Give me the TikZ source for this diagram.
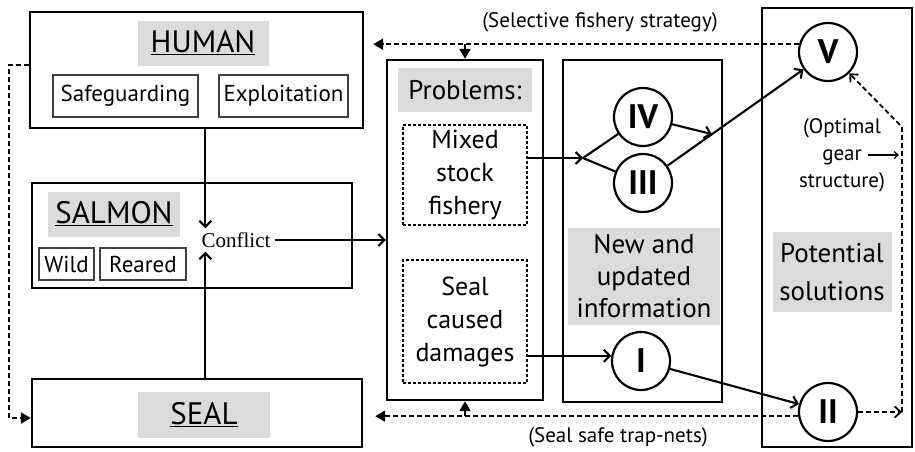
\documentclass[tikz,border=0pt]{standalone}
\usepackage{fontspec}
\setmainfont{PT Sans}
\newfontfamily\conflictfont{Liberation Serif}
\usetikzlibrary{arrows.meta,calc}

\newcommand{\bigfont}{\fontsize{31}{34}\selectfont}
\newcommand{\midfont}{\fontsize{26}{33}\selectfont}
\newcommand{\subfont}{\fontsize{23}{26}\selectfont}
\newcommand{\notefont}{\fontsize{21}{27}\selectfont}

\begin{document}
\begin{tikzpicture}[x=1pt,y=-1pt,
  every node/.style={inner sep=0pt},
  box/.style={draw, line width=2.4pt},
  subbox/.style={draw=black!75, line width=1.6pt, font=\subfont},
  dbox/.style={draw, line width=1.8pt, dash pattern=on 3pt off 2pt, align=center, font=\midfont},
  lbl/.style={fill=black!14, align=center},
  num/.style={draw, circle, line width=2.2pt, minimum size=58pt,
    font=\fontsize{34}{34}\selectfont\bfseries},
  arr/.style={line width=2.1pt, -{Straight Barb[length=6pt,width=12pt]}},
  darr/.style={line width=2.1pt, dash pattern=on 5pt off 3pt,
    -{Triangle[length=10pt,width=11pt]}},
  carr/.style={line width=1.8pt, dash pattern=on 5pt off 3pt,
    -{Straight Barb[length=6pt,width=11pt]}}]
  \useasboundingbox (0,0) rectangle (915,451);

  %% Left column: human, salmon, seal
  \node[box, minimum width=333pt, minimum height=116pt] (human) at (196.5,70) {};
  \node[lbl, minimum width=131pt, minimum height=45pt, font=\bigfont] (humanlbl) at (203,43) {\underline{HUMAN}};
  \node[subbox, minimum width=145pt, minimum height=42pt] (safe) at (125.5,96) {Safeguarding};
  \node[subbox, minimum width=129pt, minimum height=42pt] (exploit) at (283.5,96) {Exploitation};

  \node[box, minimum width=320pt, minimum height=105pt] (salmon) at (192,235.5) {};
  \node[lbl, minimum width=132pt, minimum height=45pt, font=\bigfont] (salmonlbl) at (114,214) {\underline{SALMON}};
  \node[subbox, minimum width=55pt, minimum height=32pt] (wild) at (66.5,264) {Wild};
  \node[subbox, minimum width=86pt, minimum height=32pt] (reared) at (143,264) {Reared};
  \node[font=\conflictfont\fontsize{21}{21}\selectfont, inner sep=4pt] (conflict) at (236,240) {Conflict};

  \node[box, minimum width=330pt, minimum height=68pt] (seal) at (197,413) {};
  \node[lbl, minimum width=132pt, minimum height=46pt, font=\bigfont] (seallbl) at (204,415) {\underline{SEAL}};

  %% Middle: problems and new information
  \node[box, minimum width=156pt, minimum height=340pt] (problems) at (465,230) {};
  \node[lbl, minimum width=134pt, minimum height=44pt, font=\fontsize{27}{27}\selectfont] (problemslbl) at (465,90) {Problems:};
  \node[dbox, minimum width=124pt, minimum height=100pt] (mixed) at (465,175) {Mixed\\stock\\fishery};
  \node[dbox, minimum width=124pt, minimum height=123pt] (damages) at (465,321.5) {Seal\\caused\\damages};

  \node[box, minimum width=159pt, minimum height=342pt] (info) at (642.5,231) {};
  \node[lbl, minimum width=152pt, minimum height=97pt, font=\fontsize{27}{32}\selectfont] (infolbl) at (644,276) {New and\\updated\\information};
  \node[num] (four) at (643,117) {IV};
  \node[num] (three) at (643,183) {III};
  \node[num] (one) at (641,361) {I};

  %% Right: potential solutions
  \node[box, minimum width=150pt, minimum height=439pt] (solutions) at (837,227.5) {};
  \node[lbl, minimum width=119pt, minimum height=80pt, font=\fontsize{27}{38}\selectfont] (sollbl) at (832,272) {Potential\\solutions};
  \node[num] (five) at (828,52) {V};
  \node[num] (two) at (828,412) {II};
  \node[font=\notefont, align=center] (gear) at (842,155) {(Optimal\\gear\\structure)};

  \node[font=\notefont] (selective) at (600,22) {(Selective fishery strategy)};
  \node[font=\notefont] (trapnets) at (618,437) {(Seal safe trap-nets)};

  % Conflict
  \draw[arr] ([xshift=8pt]conflict.north west |- human.south) -- ([xshift=8pt]conflict.north west);
  \draw[arr] ([xshift=8pt]conflict.south west |- seal.north) -- ([xshift=8pt]conflict.south west);
  \draw[arr] (conflict) -- (conflict -| problems.west);

  % Feedback human -> seal
  \draw[darr] ([yshift=5pt]human.west) -- ++(-20,0) |- ([yshift=-5pt]seal.west);

  % Problems -> information
  \coordinate (fork) at (583,158);
  \coordinate (join) at ($(three)!0.373!(five)$);
  \coordinate (bend) at (902,127);
  \draw[arr] (mixed.east |- fork) -- (fork);
  \draw[line width=2.1pt] (fork) -- (four);
  \draw[line width=2.1pt] (fork) -- (three);
  \draw[arr] (four) -- (join);
  \draw[arr] (three) -- (five);
  \draw[arr] (damages.east |- one.170) -- (one.170);
  \draw[arr] (one) -- (two);

  % Solutions back to human and seal
  \draw[darr, shorten >=9pt] (five.165) -- (five.165 -| human.east);
  \draw[darr] (five.165 -| problems.north) -- (problems.north);
  \draw[darr, shorten >=12pt] (two.188) -- (two.188 -| seal.east);
  \draw[darr] (two.188 -| problems.south) -- (problems.south);

  % Gear structure loop
  \draw[carr] (two.east) -- (two.east -| bend);
  \draw[carr] (two.east -| bend) -- (bend) -- (five.-45);
  \draw[line width=1.2pt, -{Straight Barb[length=4pt,width=7pt]}, shorten >=3pt] ([xshift=26pt]gear.center) -- (gear.center -| bend);
\end{tikzpicture}
\end{document}
